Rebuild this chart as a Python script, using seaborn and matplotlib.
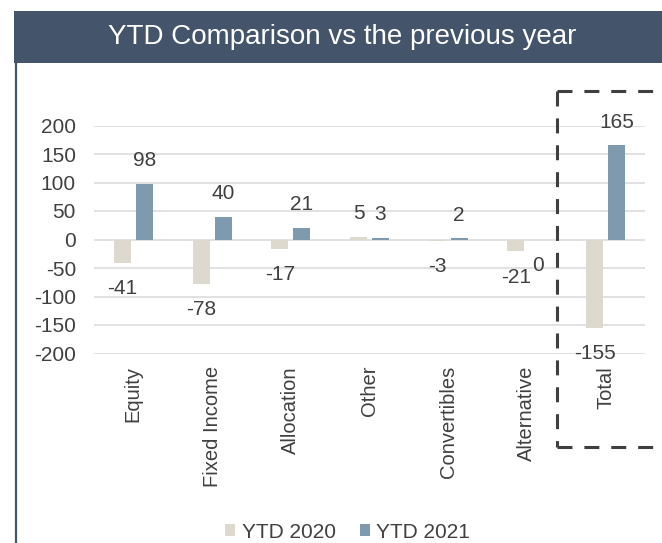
import matplotlib
matplotlib.use("Agg")
import matplotlib.pyplot as plt
import seaborn as sns
import pandas as pd
from matplotlib.patches import Rectangle, Patch
from matplotlib.lines import Line2D

categories = ["Equity", "Fixed Income", "Allocation", "Other", "Convertibles", "Alternative", "Total"]
ytd_2020 = [-41, -78, -17, 5, -3, -21, -155]
ytd_2021 = [98, 40, 21, 3, 2, 0, 165]
series_names = ["YTD 2020", "YTD 2021"]
title = "YTD Comparison vs the previous year"
yticks = [-200, -150, -100, -50, 0, 50, 100, 150, 200]

colors = {"YTD 2020": "#DDD9CE", "YTD 2021": "#7F99AE"}
header_color = "#44546A"
text_color = "#404040"

sns.set_theme(style="white")
plt.rcParams["font.family"] = ["Liberation Sans", "DejaVu Sans"]

df = pd.DataFrame({
    "category": categories * 2,
    "series": [series_names[0]] * len(categories) + [series_names[1]] * len(categories),
    "value": ytd_2020 + ytd_2021,
})

W, H = 662, 543
fig = plt.figure(figsize=(W / 100, H / 100), dpi=100)
fig.patch.set_facecolor("white")

def fx(px):
    return px / W

def fy(py):
    return 1 - py / H

ax = fig.add_axes([fx(94), fy(353.5), (645 - 94) / W, (353.5 - 125.5) / H])
sns.barplot(data=df, x="category", y="value", hue="series", hue_order=series_names,
            order=categories, palette=colors, width=0.56, gap=0.23, saturation=1,
            linewidth=0, legend=False, ax=ax, errorbar=None)

ax.set_xlim(-0.5, len(categories) - 0.5)
ax.set_ylim(-200, 200)
ax.set_yticks(yticks)
ax.set_yticklabels([str(t) for t in yticks])
ax.yaxis.grid(True, color="#D9D9D9", linewidth=1.1)
ax.xaxis.grid(False)
ax.set_axisbelow(True)
for s in ax.spines.values():
    s.set_visible(False)
ax.set_xlabel("")
ax.set_ylabel("")
ax.tick_params(axis="y", length=0, pad=13, labelsize=15, labelcolor=text_color)
ax.tick_params(axis="x", length=0, pad=9, labelsize=14.5, labelcolor=text_color)
ax.set_xticks(range(len(categories)))
ax.set_xticklabels(categories, rotation=90, ha="center", va="top")

for cont, vals in zip(ax.containers, [ytd_2020, ytd_2021]):
    for bar, v in zip(cont, vals):
        x = bar.get_x() + bar.get_width() / 2
        off = 16.6 if v > 0 else -18.4
        ax.annotate(str(v), (x, v), xytext=(0, off), textcoords="offset points",
                    ha="center", va="center", fontsize=15, color=text_color,
                    annotation_clip=False)

# header
fig.patches.append(Rectangle((fx(14), fy(63)), fx(662 - 14), 52 / H,
                             transform=fig.transFigure, facecolor=header_color,
                             edgecolor="none", zorder=0))
fig.text(fx(342), fy(37.5), title, ha="center", va="center", fontsize=20, color="white")

# left border
fig.lines.append(Line2D([fx(15.5), fx(15.5)], [0, fy(63)], transform=fig.transFigure,
                        color=header_color, linewidth=1.6))

# dashed box around Total
box_kw = dict(transform=fig.transFigure, color="#3F3F3F", linewidth=2.2,
              linestyle=(0, (4.9, 3.9)), solid_capstyle="butt", dash_capstyle="butt")
fig.lines.append(Line2D([fx(557), fx(664)], [fy(90.5), fy(90.5)], **box_kw))
fig.lines.append(Line2D([fx(557), fx(557)], [fy(90.5), fy(447)], **box_kw))
fig.lines.append(Line2D([fx(557), fx(664)], [fy(447), fy(447)], **box_kw))

handles = [Patch(facecolor=colors[s], edgecolor="none", label=s) for s in series_names]
fig.legend(handles=handles, loc="center", bbox_to_anchor=(fx(347.5), fy(532)), ncol=2,
           frameon=False, fontsize=15, handlelength=0.48, handleheight=0.48,
           handletextpad=0.3, columnspacing=1.15, labelcolor=text_color,
           borderpad=0, borderaxespad=0)

fig.savefig("out.png", dpi=100)
